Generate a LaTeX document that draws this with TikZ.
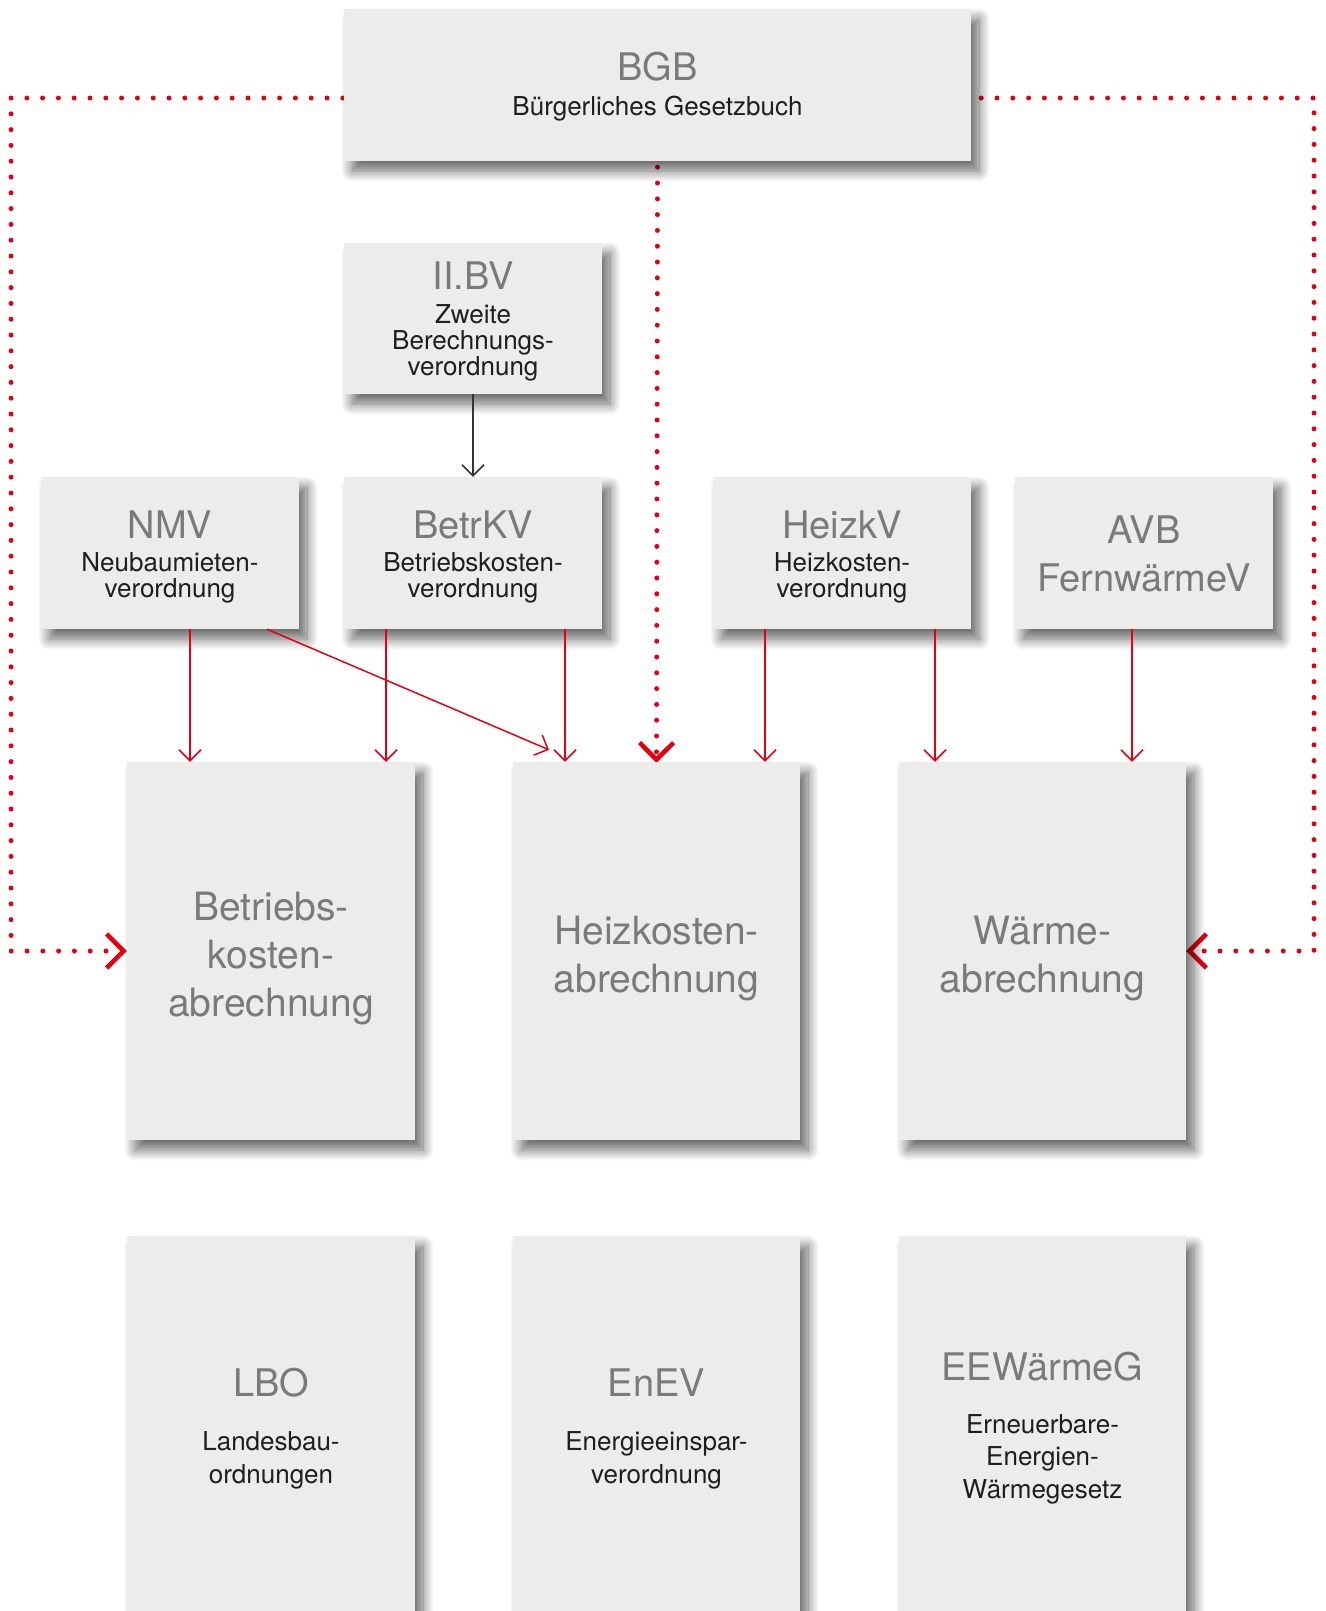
\documentclass[tikz,border=0pt]{standalone}
\usepackage{fontspec}
\setmainfont{TeX Gyre Heros}
\usetikzlibrary{arrows.meta,calc,shadows.blur}
\definecolor{boxgray}{RGB}{236,236,234}
\definecolor{titlegray}{RGB}{122,122,122}
\definecolor{subblack}{RGB}{30,30,30}
\definecolor{myred}{RGB}{228,0,18}
\pgfdeclarelayer{bg}
\pgfsetlayers{bg,main}
\tikzset{
 box/.style={rectangle, fill=boxgray, inner sep=0pt,
   blur shadow={shadow xshift=8pt, shadow yshift=-10pt, shadow blur radius=11pt, shadow blur steps=12, shadow opacity=60}},
 ttl/.style={anchor=base, text=titlegray, inner sep=0pt, font=\fontsize{38}{40}\selectfont},
 sub/.style={anchor=base, text=subblack, inner sep=0pt, font=\fontsize{26}{28}\selectfont},
 big/.style={anchor=base, text=titlegray, inner sep=0pt, font=\fontsize{39}{44}\selectfont},
 redarr/.style={draw=myred, line width=1.5pt, -{Straight Barb[length=11pt,width=22pt,line width=1.5pt]}},
 blkarr/.style={draw=black!80, line width=1.5pt, -{Straight Barb[length=11pt,width=22pt,line width=1.5pt]}},
 dotline/.style={draw=myred, line width=5pt, line cap=round, dash pattern=on 0pt off 15.8pt,
   -{Straight Barb[length=17pt,width=34pt,line width=4.5pt]}},
}
\begin{document}
\begin{tikzpicture}[x=1pt,y=-1pt]
\useasboundingbox (0,0) rectangle (1325,1611);
% boxes
\node[box, minimum width=627pt, minimum height=152pt] (bgb) at (657.5,85) {};
\node[box, minimum width=258pt, minimum height=151pt] (iibv) at (473,318.5) {};
\node[box, minimum width=258pt, minimum height=152pt] (nmv) at (170,553) {};
\node[box, minimum width=258pt, minimum height=152pt] (betrkv) at (473,553) {};
\node[box, minimum width=258pt, minimum height=152pt] (heizkv) at (842,553) {};
\node[box, minimum width=258pt, minimum height=152pt] (avb) at (1144,553) {};
\node[box, minimum width=288pt, minimum height=378pt] (babr) at (271,951) {};
\node[box, minimum width=287pt, minimum height=378pt] (habr) at (656.5,951) {};
\node[box, minimum width=287pt, minimum height=378pt] (wabr) at (1042.5,951) {};
\node[box, minimum width=288pt, minimum height=400pt] (lbo) at (271,1436) {};
\node[box, minimum width=287pt, minimum height=400pt] (enev) at (656.5,1436) {};
\node[box, minimum width=287pt, minimum height=400pt] (eew) at (1042.5,1436) {};
% texts
\node[ttl] (tbgb) at (657.5,81) {BGB};
\node[sub] (sbgb) at (657.5,115) {Bürgerliches Gesetzbuch};
\node[ttl] (tiibv) at (473,289) {II.BV};
\node[sub] (siibv1) at (473,323) {Zweite};
\node[sub] (siibv2) at (473,349) {Berechnungs-};
\node[sub] (siibv3) at (473,375) {verordnung};
\node[ttl] (tnmv) at (170,538) {NMV};
\node[sub] (snmv1) at (170,571) {Neubaumieten-};
\node[sub] (snmv2) at (170,597) {verordnung};
\node[ttl] (tbetr) at (473,538) {BetrKV};
\node[sub] (sbetr1) at (473,571) {Betriebskosten-};
\node[sub] (sbetr2) at (473,597) {verordnung};
\node[ttl] (theiz) at (842,538) {HeizkV};
\node[sub] (sheiz1) at (842,571) {Heizkosten-};
\node[sub] (sheiz2) at (842,597) {verordnung};
\node[ttl] (tavb1) at (1144,543) {AVB};
\node[ttl] (tavb2) at (1144,591) {FernwärmeV};
\node[big] (tbabr1) at (271,920) {Betriebs-};
\node[big] (tbabr2) at (271,968) {kosten-};
\node[big] (tbabr3) at (271,1016) {abrechnung};
\node[big] (thabr1) at (656.5,944) {Heizkosten-};
\node[big] (thabr2) at (656.5,992) {abrechnung};
\node[big] (twabr1) at (1042.5,944) {Wärme-};
\node[big] (twabr2) at (1042.5,992) {abrechnung};
\node[ttl] (tlbo) at (271,1396) {LBO};
\node[sub] (slbo1) at (271,1450) {Landesbau-};
\node[sub] (slbo2) at (271,1483) {ordnungen};
\node[ttl] (tenev) at (656.5,1396) {EnEV};
\node[sub] (senev1) at (656.5,1450) {Energieeinspar-};
\node[sub] (senev2) at (656.5,1483) {verordnung};
\node[ttl] (teew) at (1042.5,1380) {EEWärmeG};
\node[sub] (seew1) at (1042.5,1433) {Erneuerbare-};
\node[sub] (seew2) at (1042.5,1465) {Energien-};
\node[sub] (seew3) at (1042.5,1498) {Wärmegesetz};
% dotted connectors
\begin{pgfonlayer}{bg}
\coordinate (l1) at (11,98);
\coordinate (l2) at (11,951);
\coordinate (r1) at (1314,98);
\coordinate (r2) at (1314,951);
\draw[dotline] ($(bgb.west)+(-1,13)$) -- (l1) -- (l2) -- (babr.west);
\draw[dotline] ($(bgb.east)+(10,13)$) -- (r1) -- (r2) -- (wabr.east);
\draw[dotline] ($(bgb.south)+(0,6)$) -- ($(habr.north)+(0,1)$);
\end{pgfonlayer}
% solid connectors
\draw[blkarr] (iibv.south) -- (betrkv.north);
\draw[redarr] ([xshift=20pt]nmv.south) -- ([xshift=-81pt]babr.north);
\draw[redarr] ([xshift=97pt]nmv.south) -- ($(habr.north)+(-107.5,-12)$);
\draw[redarr] ([xshift=-87pt]betrkv.south) -- ([xshift=115pt]babr.north);
\draw[redarr] ([xshift=92pt]betrkv.south) -- ([xshift=-91.5pt]habr.north);
\draw[redarr] ([xshift=-77pt]heizkv.south) -- ([xshift=108.5pt]habr.north);
\draw[redarr] ([xshift=93pt]heizkv.south) -- ([xshift=-107.5pt]wabr.north);
\draw[redarr] ([xshift=-12pt]avb.south) -- ([xshift=89.5pt]wabr.north);
\end{tikzpicture}
\end{document}
